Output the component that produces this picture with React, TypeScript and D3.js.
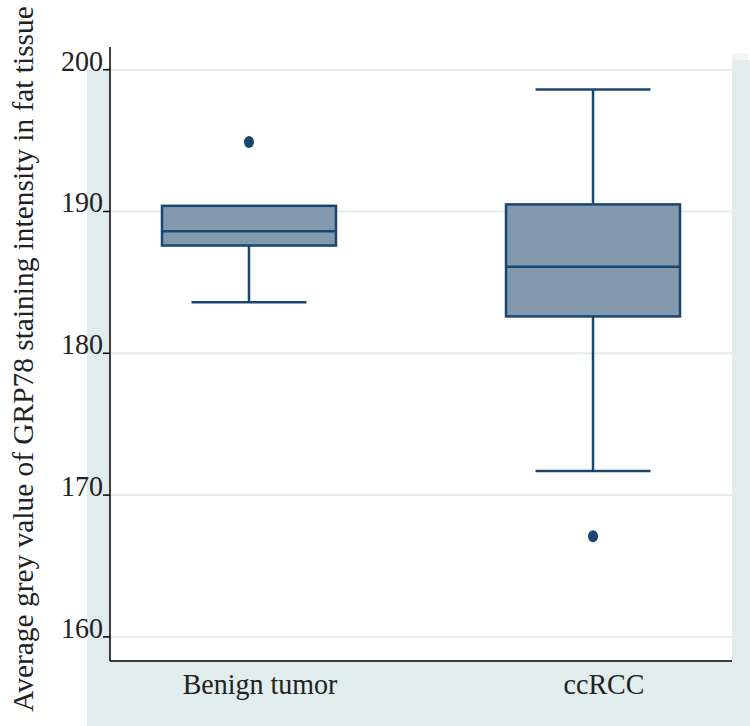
import React from "react";
import * as d3 from "d3";

const categories = ["Benign tumor", "ccRCC"];
const q1 = [187.6, 182.6];
const median = [188.6, 186.1];
const q3 = [190.4, 190.5];
const whiskerLow = [183.6, 171.7];
const whiskerHigh = [190.4, 198.6];
const outliers = [[194.9], [167.1]];
const yTicks = [160, 170, 180, 190, 200];
const yTitle = "Average grey value of GRP78 staining intensity in fat tissue";

const W = 750, H = 726;
const plotL = 110, plotR = 732, plotT = 47, plotB = 661;
const navy = "#1a476f";
const fill = "#8399ae";
const bg = "#e1ecec";
const grid = "#e4eded";

export default function App() {
  const y = d3.scaleLinear().domain([158.3, 201.6]).range([plotB, plotT]);
  const x = d3.scalePoint<string>().domain(categories).range([plotL, plotR]).padding(0.404);
  const boxW = 174;
  const capW = 115;
  const font = "'Liberation Serif', 'Times New Roman', serif";
  return (
    <svg width={W} height={H} style={{ position: "absolute", left: 0, top: 0 }}>
      <rect x={0} y={0} width={W} height={H} fill="#fff" />
      {/* graph-region background */}
      <rect x={87} y={70} width={plotL - 87} height={H - 70} fill={bg} />
      <rect x={plotR} y={60} width={W - plotR} height={H - 60} fill={bg} />
      <rect x={plotR} y={53} width={W - plotR - 2} height={7} fill="#f0f5f5" />
      <rect x={87} y={plotB} width={W - 87} height={H - plotB} fill={bg} />
      {/* grid */}
      {yTicks.map((t) => (
        <line key={t} x1={plotL} x2={plotR} y1={y(t)} y2={y(t)} stroke={grid} strokeWidth={2} />
      ))}
      {/* boxes */}
      {categories.map((c, i) => {
        const cx = x(c)!;
        return (
          <g key={c} stroke={navy} strokeWidth={2.5}>
            <line x1={cx} x2={cx} y1={y(q3[i])} y2={y(whiskerHigh[i])} />
            <line x1={cx} x2={cx} y1={y(q1[i])} y2={y(whiskerLow[i])} />
            {whiskerHigh[i] > q3[i] + 0.01 && (
              <line x1={cx - capW / 2} x2={cx + capW / 2} y1={y(whiskerHigh[i])} y2={y(whiskerHigh[i])} />
            )}
            <line x1={cx - capW / 2} x2={cx + capW / 2} y1={y(whiskerLow[i])} y2={y(whiskerLow[i])} />
            <rect x={cx - boxW / 2} y={y(q3[i])} width={boxW} height={y(q1[i]) - y(q3[i])} fill={fill} />
            <line x1={cx - boxW / 2} x2={cx + boxW / 2} y1={y(median[i])} y2={y(median[i])} />
            {outliers[i].map((o, j) => (
              <ellipse key={j} cx={cx} cy={y(o)} rx={5} ry={6} fill={navy} stroke="none" />
            ))}
          </g>
        );
      })}
      {/* axes */}
      <line x1={plotL} x2={plotL} y1={plotT} y2={plotB} stroke="#000" strokeWidth={1.5} />
      <line x1={plotL} x2={plotR} y1={plotB} y2={plotB} stroke="#000" strokeWidth={1.5} />
      {yTicks.map((t) => (
        <g key={t}>
          <line x1={plotL - 7} x2={plotL} y1={y(t)} y2={y(t)} stroke="#000" strokeWidth={1.5} />
          <text
            transform={`translate(${plotL - 7}, ${y(t) + 1}) scale(1, 1.03)`}
            textAnchor="end"
            fontFamily={font}
            fontSize={28}
            fill="#222"
          >
            {t}
          </text>
        </g>
      ))}
      {categories.map((c) => (
        <text
          key={c}
          transform={`translate(${x(c)! + 11}, 694) scale(1, 1.03)`}
          textAnchor="middle"
          fontFamily={font}
          fontSize={28}
          fill="#222"
        >
          {c}
        </text>
      ))}
      <text
        transform={`translate(33, 359) rotate(-90)`}
        textAnchor="middle"
        fontFamily={font}
        fontSize={29.4}
        fill="#222"
      >
        {yTitle}
      </text>
    </svg>
  );
}
